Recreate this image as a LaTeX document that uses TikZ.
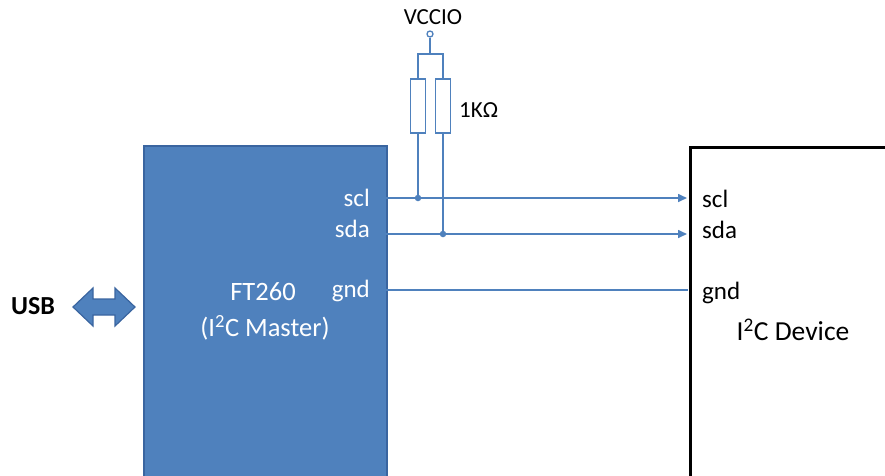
\documentclass[tikz,border=0pt]{standalone}
\usepackage{fontspec}
\setmainfont{Carlito}
\usetikzlibrary{arrows.meta}
\definecolor{ftblue}{HTML}{4F81BD}
\definecolor{ftedge}{HTML}{3A65A0}
\definecolor{wire}{HTML}{4F81BD}
\begin{document}
\begin{tikzpicture}[x=1pt,y=-1pt,
  wirest/.style={draw=wire,line width=1.6pt},
  arr/.style={wirest,-{Triangle[length=9pt,width=8pt]}},
  lbl/.style={inner sep=0pt,font=\fontsize{25}{28}\selectfont},
  dotst/.style={circle,fill=wire,inner sep=0pt,minimum size=6.5pt}]
\useasboundingbox (0,0) rectangle (885,475);
\clip (0,0) rectangle (885,475);
% boxes
\node[draw=ftedge,line width=1.5pt,fill=ftblue,anchor=north west,minimum width=243pt,minimum height=345pt,inner sep=0pt] (ft) at (143,145) {};
\node[draw=black,line width=2.6pt,fill=white,anchor=north west,minimum width=230pt,minimum height=345pt,inner sep=0pt] (dev) at (689,146) {};
% FT260 text
\node[lbl,text=white,font=\fontsize{26.5}{30}\selectfont] (ftname) at (263,292) {FT260};
\node[lbl,text=white,font=\fontsize{26.5}{30}\selectfont] (ftrole) at (265,328) {(I\textsuperscript{2}C Master)};
\node[lbl,text=white,anchor=base east] (sclA) at (370,206) {scl};
\node[lbl,text=white,anchor=base east] (sdaA) at (370,237) {sda};
\node[lbl,text=white,anchor=base east] (gndA) at (370,297) {gnd};
% device text
\node[lbl,text=black,anchor=base west] (sclB) at (702,207) {scl};
\node[lbl,text=black,anchor=base west] (sdaB) at (702,238) {sda};
\node[lbl,text=black,anchor=base west] (gndB) at (702,299) {gnd};
\node[lbl,text=black,font=\fontsize{27.5}{30}\selectfont] (devname) at (793,330) {I\textsuperscript{2}C Device};
% wire coordinates
\coordinate (sclS) at (386,198);
\coordinate (sclE) at (687,198);
\coordinate (sdaS) at (386,234);
\coordinate (sdaE) at (687,234);
\coordinate (gndS) at (386,290);
\coordinate (gndE) at (688,290);
\draw[arr] (sclS) -- (sclE);
\draw[arr] (sdaS) -- (sdaE);
\draw[wirest] (gndS) -- (gndE);
% pull-ups
\node[dotst] (j1) at (418,198) {};
\node[dotst] (j2) at (443,234) {};
\node[draw=wire,line width=1.6pt,minimum width=15pt,minimum height=54pt,inner sep=0pt] (r1) at (418,106) {};
\node[draw=wire,line width=1.6pt,minimum width=15pt,minimum height=54pt,inner sep=0pt] (r2) at (443,106) {};
\node[circle,draw=wire,line width=1.3pt,fill=white,minimum size=6pt,inner sep=0pt] (vcc) at (430,34) {};
\coordinate (top) at (430,54);
\draw[wirest] (vcc) -- (top);
\draw[wirest] (r1.north) |- (top) -| (r2.north);
\draw[wirest] (r1.south) -- (j1.center);
\draw[wirest] (r2.south) -- (j2.center);
\node[lbl,text=black,font=\fontsize{23}{26}\selectfont] (vcclbl) at (433,17) {VCCIO};
\node[lbl,text=black,font=\fontsize{23}{26}\selectfont,anchor=west] (rlbl) at (459,110) {1KΩ};
% USB
\node[lbl,text=black,font=\bfseries\fontsize{26}{30}\selectfont] (usb) at (33,306) {USB};
\filldraw[fill=ftblue,draw=ftedge,line width=1.2pt]
  (73,307) -- (93,288) -- (93,299) -- (115,299) -- (115,288) -- (135,307)
  -- (115,326) -- (115,315) -- (93,315) -- (93,326) -- cycle;
\end{tikzpicture}
\end{document}
